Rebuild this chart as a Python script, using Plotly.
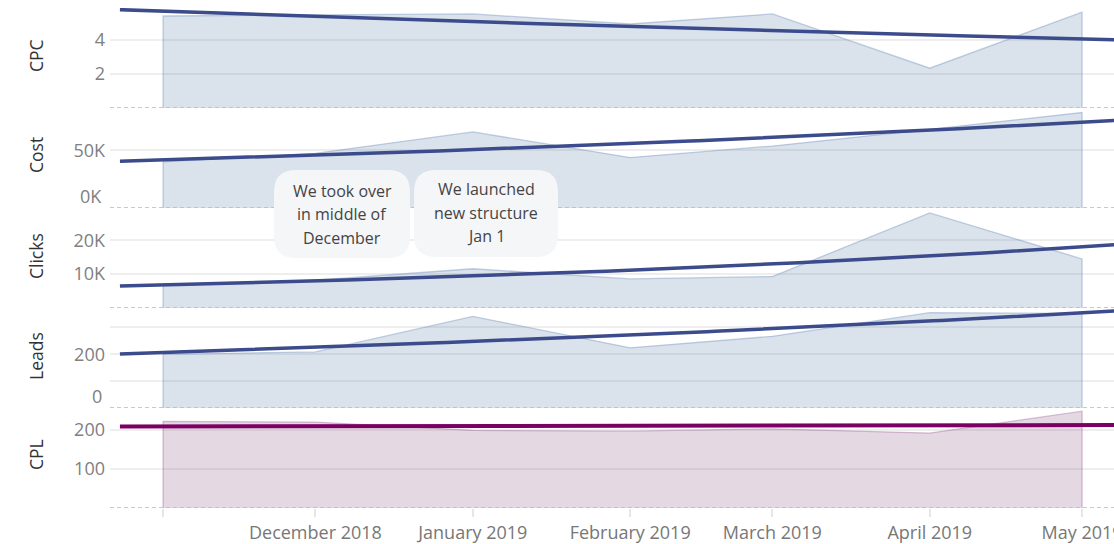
import numpy as np
import pandas as pd
import plotly.graph_objects as go
from plotly.subplots import make_subplots

# ---------------- data ----------------
months = ["2018-11-01", "2018-12-01", "2019-01-01", "2019-02-01",
          "2019-03-01", "2019-04-01", "2019-05-01"]
month_labels = ["", "December 2018", "January 2019", "February 2019",
                "March 2019", "April 2019", "May 2019"]
cpc = [5.41, 5.47, 5.53, 4.94, 5.53, 2.34, 5.63]
cost = [39900, 47400, 65900, 43700, 53700, 68200, 82700]
clicks = [6700, 8200, 11600, 8600, 9300, 28100, 14500]
leads = [200, 209, 341, 224, 267, 355, 352]
cpl = [221, 219, 198, 196, 202, 191, 247]

panel_names = ["CPC", "Cost", "Clicks", "Leads", "CPL"]
panel_values = [cpc, cost, clicks, leads, cpl]
panel_ranges = [[0, 5.88], [0, 86650], [0, 29550], [0, 372.4], [0, 255]]
panel_tickvals = [[2, 4], [0, 50000], [10000, 20000], [0, 100, 200, 300], [100, 200]]
panel_ticktext = [["2", "4"], ["", "50K"], ["10K", "20K"], ["", "", "200", ""], ["100", "200"]]
shifted_zero_labels = {1: "0K", 3: "0"}

notes = [["We took over", "in middle of", "December"],
         ["We launched", "new structure", "Jan 1"]]

trend_start = "2018-10-23 12:00"
trend_end = "2019-05-08"
x_range = ["2018-10-21 13:00", "2019-05-07 07:00"]

# ---------------- figure ----------------
W, H = 1114, 544
PLOT_L, PLOT_T, PLOT_R, PLOT_B = 110, 8, 1114, 508   # plot area in pixels
ML, MT, MR, MB = PLOT_L, PLOT_T, W - PLOT_R, H - PLOT_B
PW, PH = PLOT_R - PLOT_L, PLOT_B - PLOT_T
FONT = "Open Sans"


def px_x(px):
    return (px - PLOT_L) / PW


def px_y(py):
    return (PLOT_B - py) / PH


dates = pd.to_datetime(months)
t = ((dates - dates[0]) / pd.Timedelta(days=1)).to_numpy(dtype=float)
t0 = (pd.Timestamp(trend_start) - dates[0]) / pd.Timedelta(days=1)
t1 = (pd.Timestamp(trend_end) - dates[0]) / pd.Timedelta(days=1)


def exp_trend(vals):
    b1, b0 = np.polyfit(t, np.log(np.asarray(vals, dtype=float)), 1)
    tt = np.linspace(t0, t1, 120)
    return dates[0] + pd.to_timedelta(tt, unit="D"), np.exp(b0 + b1 * tt)


fig = make_subplots(rows=5, cols=1, shared_xaxes=True, vertical_spacing=0)

blue_fill = "rgba(70,110,160,0.2)"
blue_line = "rgba(120,150,190,0.45)"
pink_fill = "rgba(120,60,110,0.2)"
pink_line = "rgba(150,80,140,0.35)"

for i, vals in enumerate(panel_values):
    row = i + 1
    is_cpl = i == 4
    ax = list(dates[:1]) + list(dates) + list(dates[-1:])
    ay = [0] + list(vals) + [0]
    fig.add_trace(go.Scatter(
        x=ax, y=ay, mode="lines", fill="toself",
        fillcolor=pink_fill if is_cpl else blue_fill,
        line=dict(color=pink_line if is_cpl else blue_line, width=1.3),
        hoverinfo="skip", showlegend=False), row=row, col=1)
    tx, ty = exp_trend(vals)
    fig.add_trace(go.Scatter(
        x=tx, y=ty, mode="lines",
        line=dict(color="#7a0064" if is_cpl else "#3b4b8c", width=4 if is_cpl else 3.5),
        hoverinfo="skip", showlegend=False), row=row, col=1)

for i in range(5):
    n = "" if i == 0 else str(i + 1)
    lo = round(max(0.0, 0.8 - i * 0.2), 6)
    hi = round(min(1.0, 1.0 - i * 0.2), 6)
    fig.layout["yaxis" + n].update(
        domain=[lo, hi], range=panel_ranges[i], automargin=False,
        tickvals=panel_tickvals[i], ticktext=panel_ticktext[i],
        showgrid=True, gridcolor="#eeeeee", gridwidth=1.5,
        zeroline=False, showline=False, ticks="",
        ticklabelstandoff=4,
        tickfont=dict(family=FONT, size=18, color="#808080"))
    fig.layout["xaxis" + n].update(
        range=x_range, type="date", showgrid=False, zeroline=False,
        automargin=False,
        showline=False, showticklabels=False, ticks="")
    fig.add_shape(type="line", xref="paper", x0=0, x1=1,
                  yref="y" + n, y0=0, y1=0, layer="above",
                  line=dict(color="#b2b8c3", width=1.5, dash="4px,3px"))

fig.layout["xaxis5"].update(
    tickvals=list(dates), ticktext=month_labels, showticklabels=True,
    ticks="outside", ticklen=8, tickwidth=1.5, tickcolor="#e6e6e6",
    ticklabelstandoff=0, ticklabeloverflow="allow", automargin=False,
    tickfont=dict(family=FONT, size=18, color="#777777"))

title_centers = [56, 155, 256, 356, 455]
for name, cy in zip(panel_names, title_centers):
    fig.add_annotation(text=name, xref="paper", yref="paper",
                       x=px_x(36), y=px_y(cy), textangle=-90,
                       showarrow=False, xanchor="center", yanchor="middle",
                       font=dict(family=FONT, size=17.5, color="#333333"))

for i, txt in shifted_zero_labels.items():
    n = "" if i == 0 else str(i + 1)
    fig.add_annotation(text=txt, xref="paper", yref="y" + n, x=0, y=0,
                       xanchor="right", yanchor="middle", xshift=-6, yshift=12,
                       showarrow=False,
                       font=dict(family=FONT, size=18, color="#808080"))


def rrect(x0, y0, x1, y1, r):
    def P(a, b):
        return f"{px_x(a):.5f},{px_y(b):.5f}"
    return (f"M{P(x0 + r, y0)} L{P(x1 - r, y0)} Q{P(x1, y0)} {P(x1, y0 + r)} "
            f"L{P(x1, y1 - r)} Q{P(x1, y1)} {P(x1 - r, y1)} "
            f"L{P(x0 + r, y1)} Q{P(x0, y1)} {P(x0, y1 - r)} "
            f"L{P(x0, y0 + r)} Q{P(x0, y0)} {P(x0 + r, y0)} Z")


boxes = [(274, 170, 410, 258), (414, 170, 558, 257)]
line_ys = [[191, 214, 238.5], [189, 212.5, 236]]
for (x0, y0, x1, y1), lines, ys in zip(boxes, notes, line_ys):
    fig.add_shape(type="path", xref="paper", yref="paper",
                  path=rrect(x0, y0, x1, y1, 22), layer="above",
                  fillcolor="#f5f6f8", line=dict(width=0))
    cx = (x0 + x1) / 2
    for txt, ly in zip(lines, ys):
        fig.add_annotation(text=txt, xref="paper", yref="paper",
                           x=px_x(cx), y=px_y(ly), showarrow=False,
                           xanchor="center", yanchor="middle",
                           font=dict(family=FONT, size=16, color="#444444"))

fig.update_layout(
    width=W, height=H,
    margin=dict(l=ML, r=MR, t=MT, b=MB, pad=0, autoexpand=False),
    paper_bgcolor="white", plot_bgcolor="white",
    showlegend=False,
    font=dict(family=FONT),
)

page_fix = ("document.documentElement.style.margin='0';"
            "document.documentElement.style.overflow='hidden';"
            "document.body.style.margin='0';"
            "document.body.style.padding='0';"
            "document.body.style.overflow='hidden';")

fig.write_html("out.html", post_script=page_fix,
               config={"displayModeBar": False})
